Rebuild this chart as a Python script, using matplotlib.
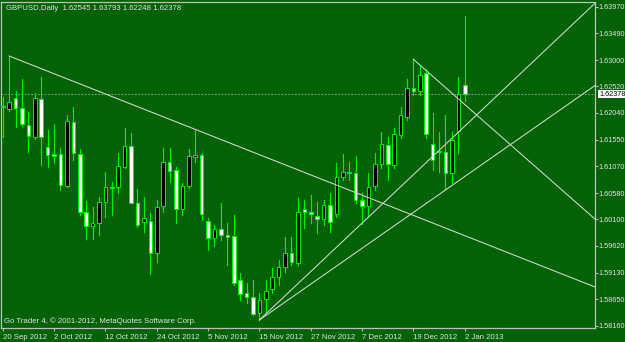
import matplotlib.pyplot as plt
from matplotlib.patches import Rectangle
import matplotlib.transforms as mtransforms
import numpy as np

# GBPUSD daily bars, 20 Sep 2012 .. 2 Jan 2013
opens = [1.62163, 1.62109, 1.62314, 1.62127, 1.61817, 1.61605, 1.62291, 1.61423, 1.61281, 1.61295,
         1.60713, 1.61867, 1.61295, 1.60240, 1.59985, 1.60029, 1.60422, 1.60695, 1.60684, 1.61059,
         1.61441, 1.60393, 1.60047, 1.60071, 1.59483, 1.60344, 1.61139, 1.60993, 1.60284, 1.60707,
         1.61241, 1.61272, 1.60071, 1.59756, 1.59925, 1.59816, 1.59803, 1.58992, 1.58766, 1.58682,
         1.58391, 1.58646, 1.58833, 1.59057, 1.59239, 1.59483, 1.59312, 1.60294, 1.60234, 1.60167,
         1.60102, 1.60362, 1.60198, 1.60877, 1.60968, 1.60939, 1.60453, 1.60349, 1.60713, 1.61108,
         1.61454, 1.61090, 1.61635, 1.61968, 1.62485, 1.62436, 1.62764, 1.61466, 1.61353, 1.61326,
         1.60949, 1.61708, 1.62545]
highs = [1.62332, 1.63073, 1.62442, 1.62649, 1.62059, 1.62405, 1.62685, 1.61726, 1.61836, 1.61393,
         1.61999, 1.62150, 1.61381, 1.60434, 1.60320, 1.60513, 1.60957, 1.60786, 1.61302, 1.61757,
         1.61677, 1.60647, 1.60502, 1.60222, 1.60453, 1.61393, 1.61393, 1.61059, 1.60757, 1.61375,
         1.61738, 1.61302, 1.60120, 1.59998, 1.60393, 1.60029, 1.60180, 1.59130, 1.58948, 1.58997,
         1.58766, 1.58997, 1.59221, 1.59361, 1.59774, 1.59774, 1.60484, 1.60453, 1.60544, 1.60422,
         1.60453, 1.60586, 1.61121, 1.61284, 1.61150, 1.61253, 1.60575, 1.60939, 1.61302, 1.61696,
         1.61605, 1.61757, 1.62140, 1.62649, 1.63013, 1.62900, 1.62836, 1.62030, 1.61696, 1.61999,
         1.61690, 1.62691, 1.63793]
lows = [1.61605, 1.62078, 1.61786, 1.61799, 1.61332, 1.61557, 1.61090, 1.61059, 1.61121, 1.60635,
        1.60695, 1.61181, 1.60180, 1.59743, 1.59743, 1.59816, 1.60149, 1.60180, 1.60575, 1.61030,
        1.60393, 1.59956, 1.59876, 1.59101, 1.59330, 1.60240, 1.60786, 1.60040, 1.60180, 1.60666,
        1.61150, 1.60089, 1.59543, 1.59621, 1.59725, 1.59270, 1.58906, 1.58633, 1.58573, 1.58360,
        1.58269, 1.58391, 1.58755, 1.58906, 1.59148, 1.59270, 1.59270, 1.59938, 1.60029, 1.59847,
        1.59998, 1.59876, 1.60149, 1.60817, 1.60817, 1.60393, 1.60016, 1.60149, 1.60635, 1.61030,
        1.60817, 1.61030, 1.61575, 1.61908, 1.62363, 1.62363, 1.61575, 1.60999, 1.60968, 1.60653,
        1.60757, 1.61302, 1.62248]
closes = [1.62145, 1.62230, 1.62132, 1.61836, 1.61623, 1.62303, 1.61605, 1.61272, 1.61262, 1.60726,
          1.61890, 1.61302, 1.60229, 1.59985, 1.60029, 1.60422, 1.60695, 1.60666, 1.61077, 1.61441,
          1.60404, 1.59998, 1.60120, 1.59483, 1.60331, 1.61139, 1.60986, 1.60289, 1.60702, 1.61253,
          1.61272, 1.60193, 1.59756, 1.59920, 1.59816, 1.59785, 1.58937, 1.58737, 1.58682, 1.58378,
          1.58633, 1.58802, 1.59046, 1.59239, 1.59483, 1.59330, 1.60240, 1.60229, 1.60193, 1.60102,
          1.60362, 1.60058, 1.60877, 1.60968, 1.60939, 1.60453, 1.60344, 1.60695, 1.61108, 1.61466,
          1.61102, 1.61648, 1.61999, 1.62485, 1.62431, 1.62727, 1.61648, 1.61181, 1.61335, 1.60949,
          1.61550, 1.62382, 1.62378]

date_labels = ['20 Sep 2012', '2 Oct 2012', '12 Oct 2012', '24 Oct 2012', '5 Nov 2012',
               '15 Nov 2012', '27 Nov 2012', '7 Dec 2012', '19 Dec 2012', '2 Jan 2013']
price_ticks = [1.63970, 1.63490, 1.63000, 1.62520, 1.62040, 1.61550, 1.61070,
               1.60580, 1.60100, 1.59620, 1.59130, 1.58650, 1.58160]

# trendline objects: two anchors (bar, price), drawn as rays to the right
trend_lines = [((1, 1.63073), (30, 1.61738)),
               ((64, 1.63013), (72, 1.62191)),
               ((40, 1.58269), (72, 1.61796)),
               ((40, 1.58269), (72, 1.60880))]

bg = '#036206'
bar_col = '#00f000'
fg = '#e4e4e4'
font = 'Liberation Sans'

fig = plt.figure(figsize=(6.25, 3.42), dpi=100, facecolor=bg)
ax = fig.add_axes([1.5 / 625, 14.3 / 342, 593.5 / 625, 326.2 / 342], facecolor=bg)

n = len(opens)
for i in range(n):
    o, h, l, c = opens[i], highs[i], lows[i], closes[i]
    ax.plot([i, i], [l, h], color=bar_col, lw=0.8, zorder=2)
    fill = 'black' if c > o else 'white'
    ax.add_patch(Rectangle((i - 0.28, min(o, c)), 0.56, max(abs(c - o), 0.00008),
                           facecolor=fill, edgecolor=bar_col, lw=0.7, zorder=3))

x_right = 92.3
for (x0, y0), (x1, y1) in trend_lines:
    k = (y1 - y0) / (x1 - x0)
    ax.plot([x0, x_right], [y0, y0 + k * (x_right - x0)], color='#d2dcd2', lw=0.75, zorder=4)

ax.axhline(closes[-1], color='#8c9c8c', lw=0.8, ls=(0, (1.5, 1.5)), zorder=1)

ax.set_xlim(-0.19, x_right)
ax.set_ylim(1.58129, 1.64065)

ax.set_xticks(np.arange(0, n, 8))
ax.set_xticklabels(date_labels, ha='left', fontsize=5.6, color=fg, family=font)
ax.yaxis.tick_right()
ax.set_yticks(price_ticks)
ax.set_yticklabels(['%.5f' % p for p in price_ticks], fontsize=5.2, color=fg, family=font)
ax.tick_params(axis='x', length=2.5, width=0.8, color='#b8b8b8', pad=2)
ax.tick_params(axis='y', length=2.2, width=0.8, color='#b8b8b8', pad=0.6)
for s in ax.spines.values():
    s.set_color('#b8c4b8')
    s.set_linewidth(0.9)

# current price marker on the price scale
trans = mtransforms.blended_transform_factory(ax.transAxes, ax.transData)
ax.text(1.0 + 4 / 593.5, closes[-1], '%.5f' % closes[-1], transform=trans,
        fontsize=5.2, color='black', family=font, va='center', ha='left',
        bbox=dict(facecolor='white', edgecolor='none', pad=0.5), clip_on=False)

fig.text(6 / 625, 1 - 8 / 342, 'GBPUSD,Daily  %.5f %.5f %.5f %.5f' % (opens[-1], highs[-1], lows[-1], closes[-1]),
         fontsize=5.6, color=fg, family=font, va='center', ha='left')
fig.text(4 / 625, 1 - 321.5 / 342, 'Go Trader 4, \u00a9 2001-2012, MetaQuotes Software Corp.',
         fontsize=5.6, color=fg, family=font, va='center', ha='left')

fig.savefig('out.png', dpi=100, facecolor=bg)
